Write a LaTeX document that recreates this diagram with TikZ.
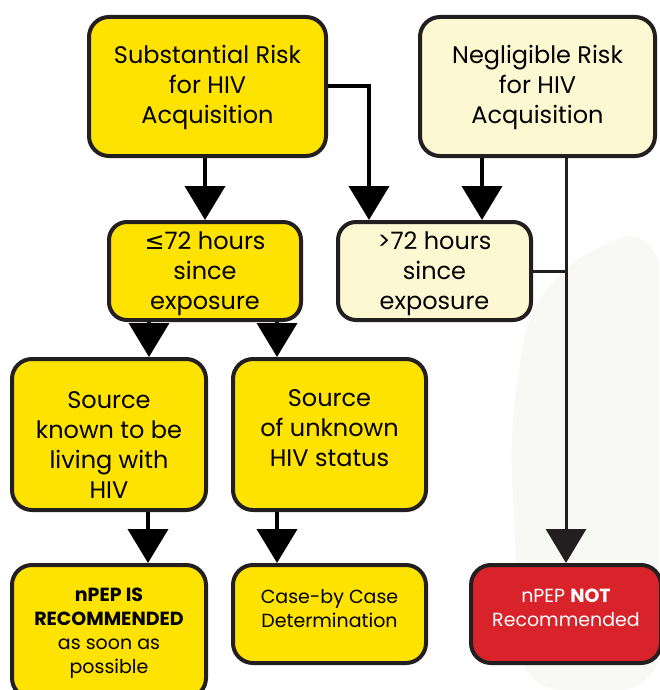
\documentclass[tikz,border=0pt]{standalone}
\usepackage{fontspec}
\setmainfont{Poppins}
\newfontfamily\symfont{DejaVu Sans}
\usetikzlibrary{arrows.meta}
\definecolor{riskyellow}{HTML}{FFE300}
\definecolor{paleyellow}{HTML}{FCF8D2}
\definecolor{stopred}{HTML}{D8232A}
\definecolor{edgegray}{HTML}{231F20}
\definecolor{hazegray}{HTML}{F8F9F4}
% struts to move a text block inside its box
\newcommand{\padtop}[1]{\rule{0pt}{#1}}
\newcommand{\padbottom}[1]{\rule[-#1]{0pt}{#1}}

\begin{document}
\begin{tikzpicture}[x=1pt, y=-1pt,
    box/.style = {draw=edgegray, line width=4pt, rounded corners=20pt, align=center,
      inner sep=0pt, font=\fontsize{24}{30}\selectfont},
    small/.style = {font=\fontsize{19}{24}\selectfont},
    flow/.style = {line width=4pt, draw=black, -{Triangle[width=40pt, length=34pt]}},
    trunk/.style = {line width=3pt, draw=edgegray},
  ]
  \useasboundingbox[fill=white] (0,0) rectangle (659,690);
  % faint backdrop on the right
  \fill[hazegray, rounded corners=40pt] (522,690) -- (510,430) -- (530,300) -- (600,240)
    -- (659,230) -- (659,690) -- cycle;

  % risk level
  \node[box, fill=riskyellow, minimum width=237pt, minimum height=139pt] (subst) at (207.5, 86.5)
    {\padtop{20pt}Substantial Risk\\for HIV\\Acquisition};
  \node[box, fill=paleyellow, minimum width=235pt, minimum height=139pt] (neglig) at (537.5, 86.5)
    {\padtop{20pt}Negligible Risk\\for HIV\\Acquisition};

  % time since exposure
  \node[box, fill=riskyellow, rounded corners=18pt, minimum width=192pt, minimum height=98pt] (within) at (205, 271)
    {\padtop{24pt}{\symfont ≤}72 hours\\since\\exposure};
  \node[box, fill=paleyellow, rounded corners=18pt, minimum width=193pt, minimum height=98pt] (beyond) at (434.5, 271)
    {\padtop{24pt}>72 hours\\since\\exposure};

  % source
  \node[box, fill=riskyellow, minimum width=194pt, minimum height=151pt] (known) at (109, 434.5)
    {\padtop{37pt}Source\\known to be\\living with\\HIV};
  \node[box, fill=riskyellow, minimum width=193pt, minimum height=151pt] (unknown) at (329.5, 434.5)
    {Source\\of unknown\\HIV status\padbottom{12pt}};

  % outcome
  \node[box, small, fill=riskyellow, minimum width=194pt, minimum height=133pt] (recommended) at (109, 631.5)
    {\padtop{17pt}\textbf{nPEP IS}\\\textbf{RECOMMENDED}\\as soon as\\possible};
  \node[box, small, fill=riskyellow, minimum width=193pt, minimum height=98pt] (casebycase) at (329.5, 614)
    {Case-by Case\\Determination\padbottom{12pt}};
  \node[box, small, fill=stopred, text=white, minimum width=190pt, minimum height=98pt] (notrec) at (566, 614)
    {nPEP \textbf{NOT}\\Recommended\padbottom{12pt}};

  \draw[flow] (subst.south -| within.north) -- (within.north);
  \draw[flow] (subst.east) -| ([xshift=-65.5pt]beyond.north);
  \draw[flow] ([xshift=47.5pt]beyond.north |- neglig.south) -- ([xshift=47.5pt]beyond.north);
  \draw[trunk] (beyond.east) -- (beyond.east -| notrec.north);
  \draw[trunk, -{Triangle[width=40pt, length=34pt]}] (neglig.south -| notrec.north) -- (notrec.north);

  \draw[flow] ([xshift=-56pt]within.south) -- ([xshift=-56pt]within.south |- known.north);
  \draw[flow] ([xshift=72pt]within.south) -- ([xshift=72pt]within.south |- unknown.north);
  \draw[flow] ([xshift=39pt]known.south) -- ([xshift=39pt]recommended.north);
  \draw[flow] ([xshift=-52.5pt]unknown.south) -- ([xshift=-52.5pt]casebycase.north);
\end{tikzpicture}
\end{document}
